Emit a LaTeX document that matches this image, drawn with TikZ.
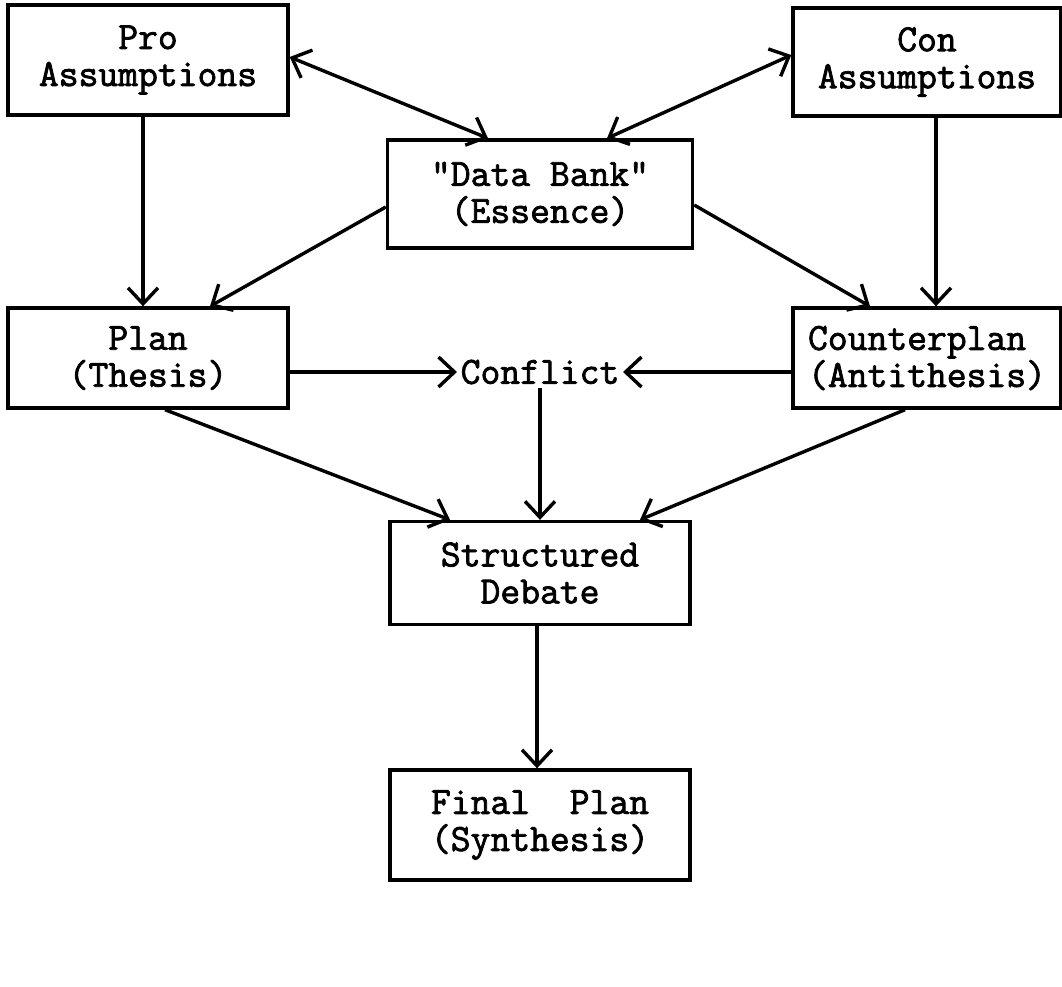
\documentclass[tikz,border=0pt]{standalone}
\usepackage{fontspec}
\newfontfamily\typewriter[FakeBold=2]{Latin Modern Mono}
\usetikzlibrary{arrows.meta}
\begin{document}
\begin{tikzpicture}[x=1pt,y=-1pt,
  line width=3.4pt,
  >={Straight Barb[length=16pt,width=30pt]},
  every node/.style={font=\typewriter\fontsize{38.5}{37}\selectfont},
  stagebox/.style={draw,rectangle,inner sep=0pt,align=center},
  link/.style={->},
  twoway/.style={<->}]
\useasboundingbox (0,0) rectangle (1062,986);

% boxes
\node[stagebox,minimum width=280,minimum height=110] (pro) at (148,60) {Pro\\Assumptions};
\node[stagebox,minimum width=268,minimum height=108] (con) at (927,62) {Con\\Assumptions};
\node[stagebox,minimum width=305,minimum height=108] (data) at (540,194) {"Data Bank"\\(Essence)};
\node[stagebox,minimum width=280,minimum height=100] (plan) at (148,358) {Plan\\(Thesis)};
\node[stagebox,minimum width=268,minimum height=100,align=left] (counter) at (927,358) {Counterplan\\(Antithesis)};
\node[inner sep=2pt] (conflict) at (540,372) {Conflict};
\node[stagebox,minimum width=300,minimum height=103] (debate) at (540,573) {Structured\\Debate};
\node[stagebox,minimum width=300,minimum height=110,align=left] (final) at (540,825) {Final\ \ Plan\\(Synthesis)};

% connectors
\draw[twoway] ([yshift=3]pro.east) -- ([xshift=-52]data.north);
\draw[twoway] ([yshift=7]con.west) -- ([xshift=67]data.north);
\draw[link] ([xshift=-5]pro.south) -- ([xshift=-5]plan.north);
\draw[link] ([yshift=-13]data.west) -- ([xshift=62]plan.north);
\draw[link] ([yshift=-11]data.east) -- ([xshift=-57]counter.north);
\draw[link] ([xshift=9]con.south) -- ([xshift=9]counter.north);
\draw[link] (plan.east |- conflict.west) -- (conflict.west);
\draw[link] (counter.west |- conflict.east) -- (conflict.east);
\draw[link] (conflict.south) -- (debate.north);
\draw[link] ([xshift=17]plan.south) -- ([xshift=-90]debate.north);
\draw[link] ([xshift=-22]counter.south) -- ([xshift=100]debate.north);
\draw[link] ([xshift=-3]debate.south) -- ([xshift=-3]final.north);
\end{tikzpicture}
\end{document}
